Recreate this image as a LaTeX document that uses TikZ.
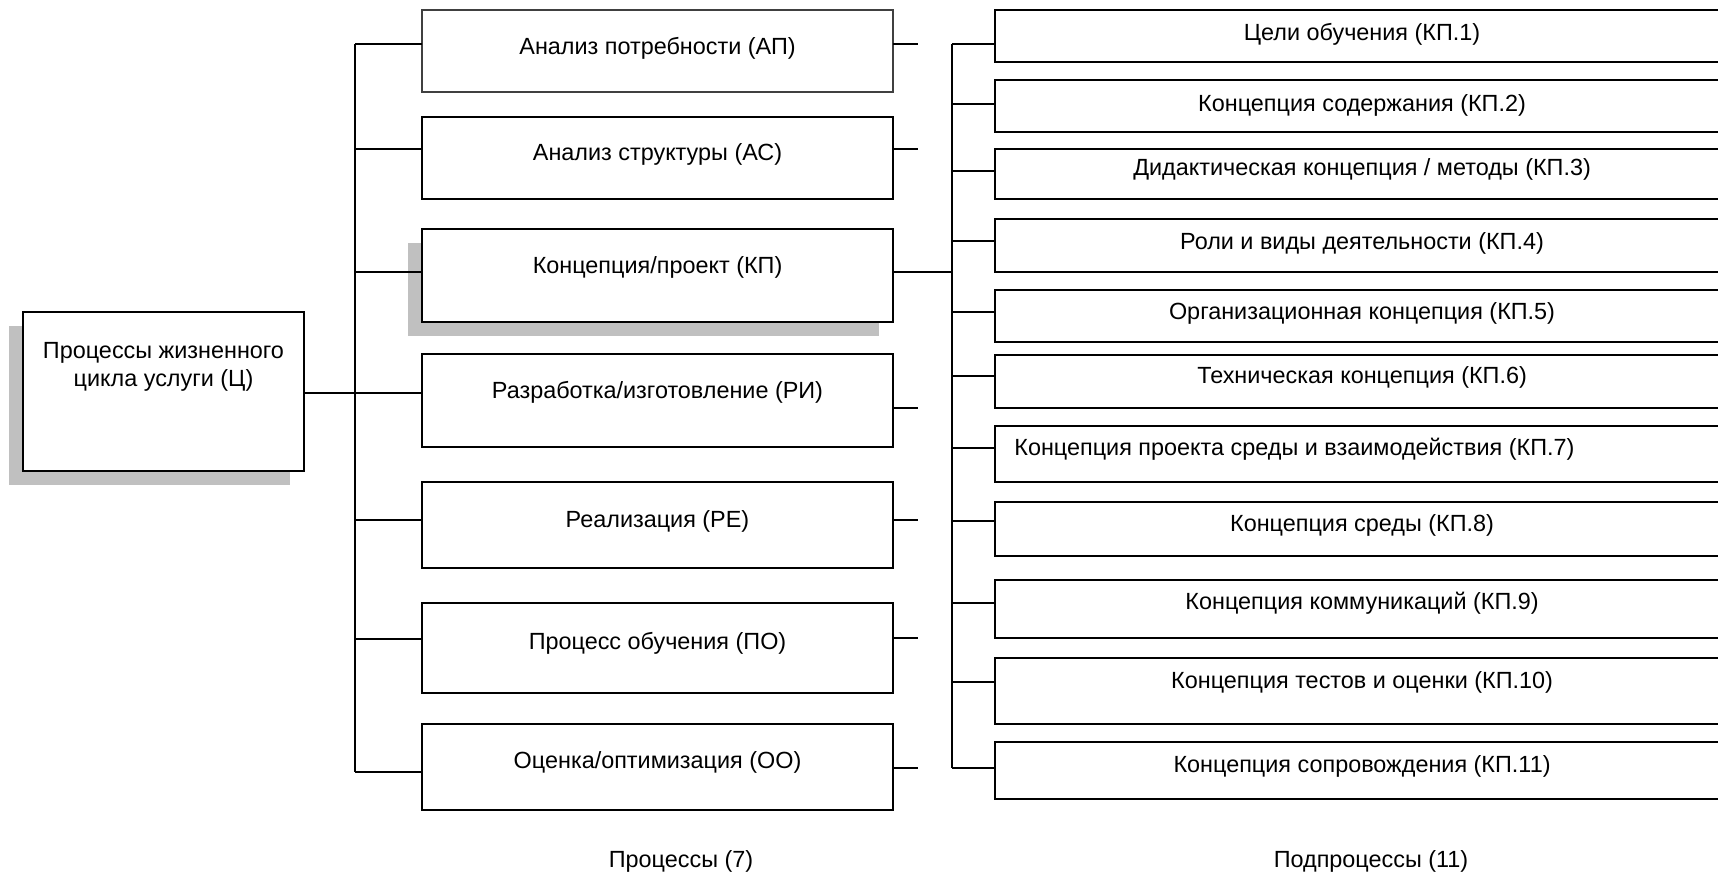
\documentclass[tikz,border=0pt]{standalone}
\usepackage{fontspec}
\setmainfont{Liberation Sans}
\definecolor{shadowgray}{HTML}{C0C0C0}
\begin{document}
\begin{tikzpicture}[x=0.5pt,y=-0.5pt,
  box/.style={draw=black, line width=1pt, fill=white, inner sep=0pt},
  thinbox/.style={box, draw=black!75, line width=0.75pt},
  shade/.style={fill=shadowgray, draw=none, inner sep=0pt},
  lbl/.style={inner sep=0pt, font=\fontsize{11.7}{14}\selectfont, text height=0.716em, text depth=0pt},
  wire/.style={line width=1pt, black}]
\useasboundingbox (0,0) rectangle (1718,873);

% shadows
\node[shade, minimum width=140.5pt, minimum height=79.5pt] (Cs) at (149.5,405.5) {};
\node[shade, minimum width=235.5pt, minimum height=46.5pt] (KPs) at (643.5,289.5) {};

% left box
\node[box, minimum width=140.5pt, minimum height=79.5pt] (C) at (163.5,391.5) {};
\node[inner sep=0pt, anchor=north, align=center, font=\fontsize{11.7}{14}\selectfont] (tC) at (163.5,342) {Процессы жизненного\\цикла услуги (Ц)};

% middle boxes
\node[thinbox, minimum width=235.5pt, minimum height=41pt] (AP) at (657.5,51) {};
\node[box, minimum width=235.5pt, minimum height=41pt] (AC) at (657.5,158) {};
\node[box, minimum width=235.5pt, minimum height=46.5pt] (KP) at (657.5,275.5) {};
\node[box, minimum width=235.5pt, minimum height=46.5pt] (RI) at (657.5,400.5) {};
\node[box, minimum width=235.5pt, minimum height=43pt] (RE) at (657.5,525) {};
\node[box, minimum width=235.5pt, minimum height=45pt] (PO) at (657.5,648) {};
\node[box, minimum width=235.5pt, minimum height=43pt] (OO) at (657.5,767) {};

\node[lbl] (tAP) at (657.5,47) {Анализ потребности (АП)};
\node[lbl] (tAC) at (657.5,153) {Анализ структуры (АС)};
\node[lbl] (tKP) at (657.5,266) {Концепция/проект (КП)};
\node[lbl] (tRI) at (657.5,391) {Разработка/изготовление (РИ)};
\node[lbl] (tRE) at (657.5,520) {Реализация (РЕ)};
\node[lbl] (tPO) at (657.5,642) {Процесс обучения (ПО)};
\node[lbl] (tOO) at (657.5,761) {Оценка/оптимизация (ОО)};

% right boxes
\node[box, minimum width=372.5pt, minimum height=26pt] (K1) at (1367.5,36) {};
\node[box, minimum width=372.5pt, minimum height=26pt] (K2) at (1367.5,106) {};
\node[box, minimum width=372.5pt, minimum height=25pt] (K3) at (1367.5,174) {};
\node[box, minimum width=372.5pt, minimum height=26.5pt] (K4) at (1367.5,245.5) {};
\node[box, minimum width=372.5pt, minimum height=26pt] (K5) at (1367.5,316) {};
\node[box, minimum width=372.5pt, minimum height=26.5pt] (K6) at (1367.5,381.5) {};
\node[box, minimum width=372.5pt, minimum height=28pt] (K7) at (1367.5,454) {};
\node[box, minimum width=372.5pt, minimum height=27pt] (K8) at (1367.5,529) {};
\node[box, minimum width=372.5pt, minimum height=29pt] (K9) at (1367.5,609) {};
\node[box, minimum width=372.5pt, minimum height=33pt] (K10) at (1367.5,691) {};
\node[box, minimum width=372.5pt, minimum height=28.5pt] (K11) at (1367.5,770.5) {};

\node[lbl] (tK1) at (1362,33) {Цели обучения (КП.1)};
\node[lbl] (tK2) at (1362,104) {Концепция содержания (КП.2)};
\node[lbl] (tK3) at (1362,168.5) {Дидактическая концепция / методы (КП.3)};
\node[lbl] (tK4) at (1362,242) {Роли и виды деятельности (КП.4)};
\node[lbl] (tK5) at (1362,312.5) {Организационная концепция (КП.5)};
\node[lbl] (tK6) at (1362,376.5) {Техническая концепция (КП.6)};
\node[lbl, anchor=west] (tK7) at (1014,448) {Концепция проекта среды и взаимодействия (КП.7)};
\node[lbl] (tK8) at (1362,524) {Концепция среды (КП.8)};
\node[lbl] (tK9) at (1362,602) {Концепция коммуникаций (КП.9)};
\node[lbl] (tK10) at (1362,681) {Концепция тестов и оценки (КП.10)};
\node[lbl] (tK11) at (1362,765) {Концепция сопровождения (КП.11)};

% bottom captions
\node[lbl] (cap1) at (681,860) {Процессы (7)};
\node[lbl] (cap2) at (1371,860) {Подпроцессы (11)};

% trunks
\coordinate (ltop) at (355,44);
\coordinate (lbot) at (355,772);
\coordinate (rtop) at (952,44);
\coordinate (rbot) at (952,768);
\draw[wire] (ltop) -- (lbot);
\draw[wire] (rtop) -- (rbot);

% left connectors
\coordinate (C-out) at (304,393);
\draw[wire] (C-out) -- (C-out -| ltop);
\coordinate (AP-in) at (422,44);
\coordinate (AC-in) at (422,149);
\coordinate (KP-in) at (422,272);
\coordinate (RI-in) at (422,393);
\coordinate (RE-in) at (422,520);
\coordinate (PO-in) at (422,639);
\coordinate (OO-in) at (422,772);
\foreach \m in {AP,AC,KP,RI,RE,PO,OO}
  \draw[wire] (\m-in) -- (\m-in -| ltop);

% right stubs of middle boxes
\coordinate (AP-out) at (893,44);
\coordinate (AC-out) at (893,149);
\coordinate (RI-out) at (893,408);
\coordinate (RE-out) at (893,520);
\coordinate (PO-out) at (893,638);
\coordinate (OO-out) at (893,768);
\foreach \m in {AP,AC,RI,RE,PO,OO}
  \draw[wire] (\m-out) -- ++(25,0);
\coordinate (KP-out) at (893,272);
\draw[wire] (KP-out) -- (KP-out -| rtop);

% right connectors
\coordinate (K1-in) at (995,44);
\coordinate (K2-in) at (995,104);
\coordinate (K3-in) at (995,171);
\coordinate (K4-in) at (995,241);
\coordinate (K5-in) at (995,312);
\coordinate (K6-in) at (995,376);
\coordinate (K7-in) at (995,448);
\coordinate (K8-in) at (995,521);
\coordinate (K9-in) at (995,603);
\coordinate (K10-in) at (995,682);
\coordinate (K11-in) at (995,768);
\foreach \k in {K1,K2,K3,K4,K5,K6,K7,K8,K9,K10,K11}
  \draw[wire] (\k-in) -- (\k-in -| rtop);
\end{tikzpicture}
\end{document}
